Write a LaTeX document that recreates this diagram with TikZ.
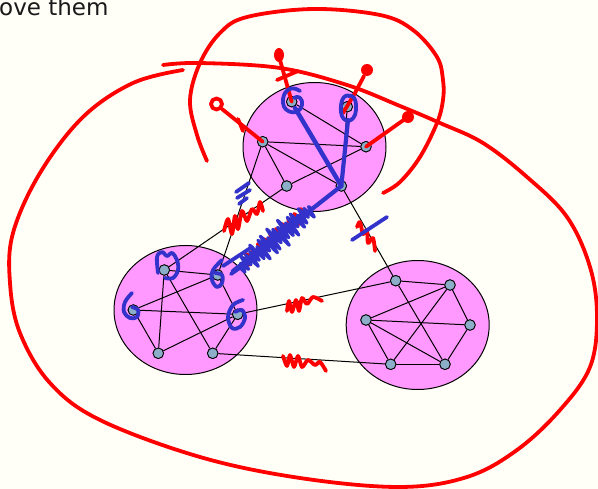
\documentclass[tikz,border=0pt]{standalone}
\usepackage{fontspec}
\setmainfont{DejaVu Sans}
\usetikzlibrary{shapes.geometric}

\definecolor{bgivory}{RGB}{255,255,248}
\definecolor{clusterpink}{RGB}{255,153,255}
\definecolor{vertexblue}{RGB}{140,174,200}
\definecolor{penred}{RGB}{255,0,0}
\definecolor{penblue}{RGB}{51,51,204}

\tikzset{
  cluster/.style={ellipse, draw, fill=clusterpink, line width=1pt, minimum width=143pt, minimum height=129pt, inner sep=0pt},
  vertex/.style={circle, draw, fill=vertexblue, line width=0.8pt, minimum size=10.5pt, inner sep=0pt},
  link/.style={line width=1pt},
  redpen/.style={draw=penred, line width=3.8pt, line cap=round, line join=round},
  bluepen/.style={draw=penblue, line width=3.8pt, line cap=round, line join=round},
}

\begin{document}
\begin{tikzpicture}[x=1pt,y=-1pt]
\fill[bgivory] (0,0) rectangle (598,489);
\useasboundingbox (0,0) rectangle (598,489);

\node[anchor=base west, inner sep=0pt, font=\fontsize{23}{27}\selectfont, text=black!90] (caption) at (-1,16) {ove them};

% the three clusters
\node[cluster] (top) at (314.5,147) {};
\node[cluster] (left) at (185.5,310) {};
\node[cluster] (right) at (417.7,325) {};

% vertices
\node[vertex] (a1) at (291.7,101.7) {};
\node[vertex] (a2) at (347.3,106.7) {};
\node[vertex] (a3) at (262.7,141.7) {};
\node[vertex] (a4) at (366,146.7) {};
\node[vertex] (a5) at (286.7,186) {};
\node[vertex] (a6) at (341.3,186) {};

\node[vertex] (b1) at (164.3,270) {};
\node[vertex] (b2) at (217.7,275) {};
\node[vertex] (b3) at (133.3,310) {};
\node[vertex] (b4) at (237.7,314.3) {};
\node[vertex] (b5) at (158.3,353.3) {};
\node[vertex] (b6) at (212.7,353.3) {};

\node[vertex] (c1) at (395.7,280.7) {};
\node[vertex] (c2) at (450,285) {};
\node[vertex] (c3) at (366,320) {};
\node[vertex] (c4) at (470,325) {};
\node[vertex] (c5) at (390.7,364.3) {};
\node[vertex] (c6) at (445,364.3) {};

% edges
\foreach \u/\v in {a1/a4, a1/a6, a2/a6, a3/a4, a3/a5, a3/a6, a5/a4,
                   b1/b2, b1/b5, b1/b6, b2/b3, b2/b4, b3/b4, b3/b5, b4/b5, b4/b6,
                   c1/c2, c1/c6, c2/c3, c2/c4, c2/c5, c3/c4, c3/c5, c3/c6, c4/c6, c5/c6,
                   a3/b2, a5/b1, a6/c1, b4/c1, b6/c5}
  \draw[link] (\u) -- (\v);
% redraw vertices on top of the edges
\foreach \n in {a1,a2,a3,a4,a5,a6,b1,b2,b3,b4,b5,b6,c1,c2,c3,c4,c5,c6}
  \node[vertex] at (\n) {};

% red pen: big loop
\draw[redpen] plot[smooth, tension=0.6] coordinates {(163,65) (200,63) (280,68) (347,85) (400,106) (440,123) (483,143) (527,177) (567,217) (590,267) (597,317) (590,367) (560,410) (517,450) (467,477) (400,487) (300,478) (200,457) (100,420) (50,383) (20,333) (10,283) (13,233) (40,173) (83,117) (133,83) (183,70)};
% red pen: loop round the top cluster
\draw[redpen] plot[smooth, tension=0.6] coordinates {(207,161) (197,135) (190,100) (200,63) (220,33) (247,17) (313,9) (380,15) (413,30) (437,57) (443,80) (443,100) (437,123) (420,157) (400,182) (383,193)};

% red pen: pins
\draw[redpen] (a1.center) -- (280,60);
\fill[penred] (279,55) ellipse [x radius=5, y radius=7];
\draw[redpen] (277,80) -- (298,71);
\draw[redpen] (343,113) -- (355,93) -- (364,76);
\fill[penred] (367,70) circle [radius=6];
\draw[redpen] (a3.center) -- (222,109);
\draw[redpen] (216.5,104) circle [radius=5.5];
\draw[redpen] (238,119) -- (243,131);
\draw[redpen] (a4.center) -- (405,119);
\fill[penred] (408,117) circle [radius=6];

% red pen: squiggles on the links
\draw[redpen] plot[smooth, tension=0.5] coordinates {(224,231) (228,219) (232,234) (235,216) (238,229) (242,211) (247,221) (252,209) (257,214) (260,202) (263,211)};
\draw[redpen] plot[smooth, tension=0.5] coordinates {(357,227) (360,222) (363,234) (367,230) (368,243) (373,238) (375,251)};
\draw[redpen] plot[smooth, tension=0.5] coordinates {(287,311) (289,301) (292,312) (296,300) (299,311) (302,298) (307,304) (313,297) (322,301)};
\draw[redpen] plot[smooth, tension=0.5] coordinates {(283,356) (287,366) (290,355) (294,367) (298,356) (302,367) (308,360) (315,365) (320,362) (326,371)};
\draw[redpen, line width=3pt] plot[domain=0:1, samples=60] ({245+60*\x + 0.64*6*sin(3600*\x)}, {262-50*\x + 0.77*6*sin(3600*\x)});

% blue pen: rings round a1 and a2 and their strokes to a6
\draw[bluepen] (300,91) .. controls (290,84) and (282,92) .. (283,103) .. controls (284,114) and (300,116) .. (302,105) .. controls (303,98) and (298,95) .. (294,98);
\draw[bluepen, line width=4.5pt] (295,108) -- (a6.center);
\draw[bluepen] (350,96) .. controls (343,93) and (340,103) .. (341,112) .. controls (342,124) and (355,124) .. (356,110) .. controls (357,98) and (352,94) .. (348,96);
\draw[bluepen, line width=4.2pt] (348,120) -- (a6.center);

% blue pen: scribble along the a6--b2 direction
\draw[bluepen, line width=4.2pt] (a6.center) -- (233,271);
\draw[bluepen, line width=7pt] (246,263) -- (306,213);
\draw[bluepen, line width=2.8pt] plot[domain=0:1, samples=240] ({240+72*\x + 0.64*(5+5*sin(180*\x))*(sin(7200*\x)+0.4*sin(2700*\x))}, {268-59*\x + 0.77*(5+5*sin(180*\x))*(sin(7200*\x)+0.4*sin(2700*\x))});
\draw[bluepen] (223,266) -- (252,247);
\draw[bluepen] (231,274) -- (257,256);

% blue pen: marks across the links
\draw[bluepen] (236,192) -- (249,183);
\draw[bluepen] (237,198) -- (250,190);
\draw[bluepen] (239,204) -- (247,198);
\draw[bluepen] (352,240) -- (387,217);

% blue pen: marks on the left cluster
\draw[bluepen] plot[smooth, tension=0.6] coordinates {(158,273) (157,257) (162,252) (167,256) (172,253) (177,260) (178,270) (173,278) (165,278)};
\draw[bluepen] plot[smooth, tension=0.6] coordinates {(222,260) (213,270) (212,280) (217,287) (222,283) (222,275) (215,273)};
\draw[bluepen] plot[smooth, tension=0.6] coordinates {(132,293) (125,302) (124,312) (130,318) (137,317) (138,310) (132,307)};
\draw[bluepen] plot[smooth, tension=0.6] coordinates {(243,300) (233,305) (228,317) (232,328) (240,327) (245,318) (242,310) (235,312)};
\end{tikzpicture}
\end{document}
